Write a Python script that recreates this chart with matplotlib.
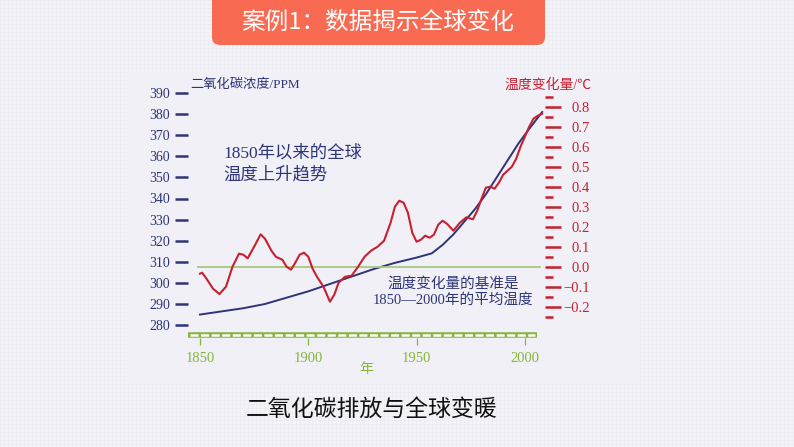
import numpy as np
import matplotlib
matplotlib.use("Agg")
import matplotlib.pyplot as plt
from matplotlib.patches import FancyBboxPatch, Rectangle

plt.rcParams["font.family"] = ["Liberation Serif", "Noto Sans CJK SC", "DejaVu Sans"]
plt.rcParams["lines.scale_dashes"] = False

# CO2 concentration (ppm)
co2_years = [1850, 1860, 1870, 1880, 1890, 1900, 1910, 1920, 1930, 1940,
             1950, 1957, 1962, 1967, 1972, 1977, 1982, 1987, 1992, 1997, 2002, 2008]
co2_ppm = [285, 286.5, 288, 290, 293, 296, 299.5, 303, 306.5, 309.5,
           312, 314, 318, 323, 329, 335, 342, 350, 358, 366, 373, 381]

# temperature change (°C)
temp_years = [1850, 1851, 1853, 1856, 1859, 1862, 1865, 1868, 1870, 1872,
              1875, 1878, 1880, 1883, 1885, 1888, 1890, 1892, 1894, 1896,
              1898, 1900, 1902, 1904, 1907, 1910, 1912, 1914, 1917, 1920,
              1923, 1926, 1929, 1932, 1935, 1938, 1940, 1942, 1944, 1946,
              1948, 1950, 1952, 1954, 1956, 1958, 1960, 1962, 1964, 1967,
              1970, 1973, 1976, 1978, 1980, 1982, 1984, 1986, 1988, 1990,
              1992, 1994, 1996, 1998, 2000, 2002, 2004, 2006, 2008]
temp_delta = [-0.035, -0.03, -0.06, -0.11, -0.137, -0.10, 0.0, 0.065, 0.06, 0.042,
              0.10, 0.162, 0.14, 0.08, 0.05, 0.035, 0.0, -0.015, 0.02, 0.06,
              0.07, 0.05, -0.01, -0.05, -0.10, -0.175, -0.14, -0.08, -0.05, -0.045,
              0.0, 0.05, 0.08, 0.10, 0.13, 0.22, 0.30, 0.33, 0.32, 0.27,
              0.17, 0.125, 0.135, 0.155, 0.145, 0.16, 0.21, 0.23, 0.215, 0.18,
              0.22, 0.247, 0.237, 0.28, 0.34, 0.395, 0.40, 0.39, 0.42, 0.46,
              0.48, 0.50, 0.54, 0.60, 0.65, 0.70, 0.74, 0.755, 0.765]

ppm_ticks = list(range(280, 391, 10))
temp_ticks = [-0.2, -0.1, 0.0, 0.1, 0.2, 0.3, 0.4, 0.5, 0.6, 0.7, 0.8]
temp_labels = ["−0.2", "−0.1", "0.0", "0.1", "0.2", "0.3", "0.4", "0.5", "0.6", "0.7", "0.8"]
year_ticks = [1850, 1900, 1950, 2000]

navy = "#2e3478"
red = "#c8202f"
green = "#86b43c"
W, H = 794, 447

fig = plt.figure(figsize=(W / 100, H / 100), dpi=100)
fig.patch.set_facecolor("#f4f4f8")

# slide background, panel, banner, caption (pixel coordinates)
bg = fig.add_axes([0, 0, 1, 1], zorder=0)
bg.set_xlim(0, W)
bg.set_ylim(H, 0)
bg.axis("off")
for gx in range(0, W, 4):
    bg.axvline(gx, color="#e9e9f0", lw=0.4, zorder=0)
for gy in range(0, H, 4):
    bg.axhline(gy, color="#e9e9f0", lw=0.4, zorder=0)
bg.add_patch(Rectangle((127, 72), 513, 311, facecolor="#f0f0f6", edgecolor="none", zorder=1))
bg.add_patch(FancyBboxPatch((212, -10), 333, 55, boxstyle="round,pad=0,rounding_size=8",
                            facecolor="#f86b52", edgecolor="none", zorder=2))
bg.text(378, 22, "案例1：数据揭示全球变化", color="white", fontsize=17,
        family=["Noto Sans CJK SC"], ha="center", va="center", zorder=3)
bg.text(372, 409, "二氧化碳排放与全球变暖", color="#111111", fontsize=16.5,
        family=["Noto Sans CJK SC"], ha="center", va="center", zorder=3)

bg.text(190, 85, "二氧化碳浓度/PPM", color=navy, fontsize=9.5, ha="left", va="center", zorder=3)
bg.text(592, 85, "温度变化量/℃", color=red, fontsize=10, ha="right", va="center", zorder=3)
bg.text(223, 153, "1850年以来的全球", color=navy, fontsize=12.5, ha="left", va="center", zorder=3)
bg.text(223, 175, "温度上升趋势", color=navy, fontsize=12.5, ha="left", va="center", zorder=3)
bg.text(453, 284, "温度变化量的基准是", color=navy, fontsize=10.5, ha="center", va="center", zorder=3)
bg.text(453, 300, "1850—2000年的平均温度", color=navy, fontsize=10.5, ha="center", va="center", zorder=3)
bg.text(366, 369, "年", color=green, fontsize=10, ha="center", va="center", zorder=3)

# chart axes
x0, x1, ytop, ybot = 188, 545, 85, 337.7
ax = fig.add_axes([x0 / W, 1 - ybot / H, (x1 - x0) / W, (ybot - ytop) / H], zorder=2)
ax.patch.set_alpha(0)
ax.set_xlim(1844.46, 2009.3)
ax.set_ylim(390 - (ybot - 93) / 2.11, 390 + (93 - ytop) / 2.11)
for s in ax.spines.values():
    s.set_visible(False)

ax.plot(co2_years, co2_ppm, color=navy, lw=1.4, zorder=3)

ax.set_yticks(ppm_ticks)
ax.tick_params(axis="y", direction="out", length=9.4, width=1.8, color=navy,
               labelcolor=navy, pad=3.6, labelsize=10)
ax.set_xticks(year_ticks)
ax.tick_params(axis="x", direction="out", length=5, width=0.9, color=green,
               labelcolor=green, pad=5, labelsize=10.5)

# green time bar
bar_y = 390 - (335 - 93) / 2.11
ax.plot([1844.46, 2005.6], [bar_y, bar_y], color=green, lw=4.0, solid_capstyle="butt", zorder=2)
ax.plot([1845.2, 2004.9], [bar_y, bar_y], color="white", lw=1.8, dashes=(5.8, 1.8),
        dash_capstyle="butt", zorder=2)

ax2 = ax.twinx()
ax2.set_zorder(3)
ax2.patch.set_alpha(0)
ax2.set_ylim(0.8 - (ybot - 106.7) / 200, 0.8 + (106.7 - ytop) / 200)
for s in ax2.spines.values():
    s.set_visible(False)
ax2.plot([1849, 2007], [0, 0], color="#a9c97f", lw=1.3, zorder=1)
ax2.plot(temp_years, temp_delta, color=red, lw=1.5, zorder=4)

ax2.set_yticks(temp_ticks, temp_labels, ha="right")
ax2.set_yticks(np.arange(-0.25, 0.9, 0.1), minor=True)
ax2.tick_params(axis="y", which="major", direction="out", length=11.5, width=1.8,
                color=red, labelcolor=red, pad=21, labelsize=10.5)
ax2.tick_params(axis="y", which="minor", direction="out", length=5.8, width=1.8, color=red)

fig.savefig("out.png", dpi=100, facecolor=fig.get_facecolor())
